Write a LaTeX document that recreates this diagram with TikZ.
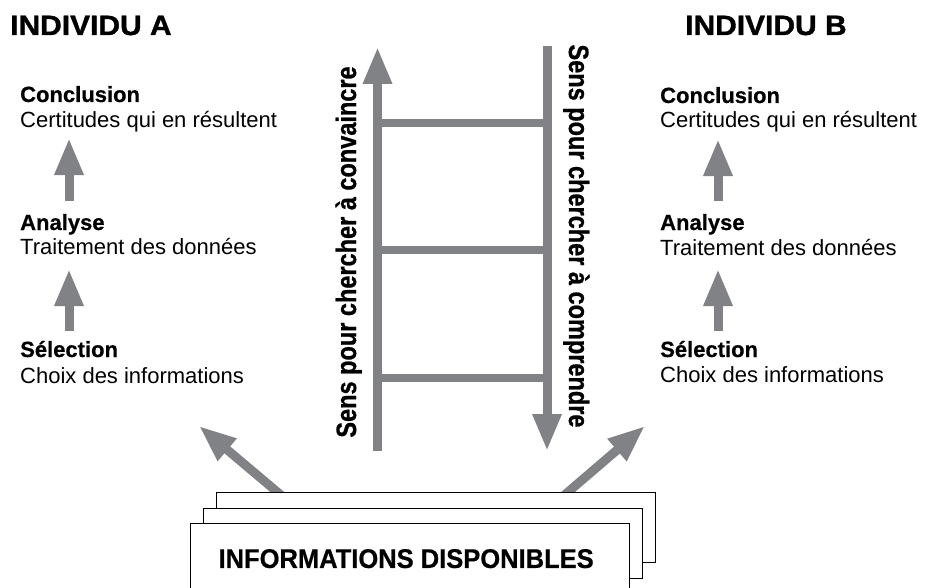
\documentclass[tikz,border=0pt]{standalone}
\usepackage{fontspec}
\setmainfont{Liberation Sans}
\newfontfamily\widefont[FakeStretch=1.07,FakeBold=1.2]{Liberation Sans}
\newfontfamily\narrowfont[FakeStretch=0.84,FakeBold=0.8]{Liberation Sans}
\newfontfamily\boxfont[FakeStretch=0.945,FakeBold=0.6]{Liberation Sans}
\newfontfamily\headfont[FakeBold=0.6]{Liberation Sans}
\usetikzlibrary{arrows.meta,calc}
\definecolor{arrowgray}{RGB}{128,130,133}

\begin{document}
\begin{tikzpicture}[x=1pt,y=-1pt,
  title/.style={font=\widefont\bfseries\fontsize{28}{30}\selectfont, anchor=base west, inner sep=0},
  head/.style={font=\headfont\bfseries\fontsize{22}{26}\selectfont, anchor=base west, inner sep=0},
  desc/.style={font=\fontsize{22}{26}\selectfont, anchor=base west, inner sep=0},
  bigarrow/.style={draw=arrowgray, line width=9pt, -{Triangle[length=37pt,width=27pt]}},
  rung/.style={draw=arrowgray, line width=8pt},
  vtext/.style={font=\narrowfont\bfseries\fontsize{28}{30}\selectfont, inner sep=0, anchor=base},
  sheet/.style={draw=black, line width=1.3pt, fill=white, minimum width=439pt,
                minimum height=70pt, inner sep=0, anchor=north west},
]
\useasboundingbox (0,0) rectangle (925,588);

% ---- column titles
\node[title] (titA) at (10,35) {INDIVIDU A};
\node[title] (titB) at (685,35) {INDIVIDU B};

% ---- individual A: three stages
\node[head] (concA)  at (20,102) {Conclusion};
\node[desc] (certA)  at (20,128) {Certitudes qui en résultent};
\node[head] (anaA)   at (20,230) {Analyse};
\node[desc] (traitA) at (20,254) {Traitement des données};
\node[head] (selA)   at (20,357) {Sélection};
\node[desc] (choixA) at (20,383) {Choix des informations};

% ---- individual B: three stages
\node[head] (concB)  at (660,103) {Conclusion};
\node[desc] (certB)  at (660,128) {Certitudes qui en résultent};
\node[head] (anaB)   at (660,230) {Analyse};
\node[desc] (traitB) at (660,255) {Traitement des données};
\node[head] (selB)   at (660,357) {Sélection};
\node[desc] (choixB) at (660,382) {Choix des informations};

% arrow axes of both columns
\coordinate (axA) at (69,0);
\coordinate (axB) at (718,0);

\draw[bigarrow] ($(anaA.base -| axA)+(0,-29)$) -- ($(certA.base -| axA)+(0,10)$);
\draw[bigarrow] ($(selA.base -| axA)+(0,-26)$) -- ($(traitA.base -| axA)+(0,15)$);
\draw[bigarrow] ($(anaB.base -| axB)+(0,-29)$) -- ($(certB.base -| axB)+(0,11)$);
\draw[bigarrow] ($(selB.base -| axB)+(0,-26)$) -- ($(traitB.base -| axB)+(0,14)$);

% ---- the ladder
\coordinate (Lbot) at (377.5,451);
\coordinate (Ltop) at (377.5,47);
\coordinate (Rtop) at (547,46);
\coordinate (Rbot) at (547,451);
\foreach \y in {123,250,378}
  \draw[rung] (377.5,\y) -- (547,\y);
\draw[bigarrow] (Lbot) -- (Ltop);
\draw[bigarrow] (Rtop) -- (Rbot);

\node[vtext, rotate=90]  (convaincre) at (356,252) {Sens pour chercher à convaincre};
\node[vtext, rotate=-90] (comprendre) at (569,236) {Sens pour chercher à comprendre};

% ---- stacked information sheets
\coordinate (tipA) at (199,426);
\coordinate (tipB) at (645,426);
\node[sheet] (back) at (216,492) {};
\draw[bigarrow] ($(back.north west)!0.139!(back.north east)+(6,5)$) -- (tipA);
\draw[bigarrow] ($(back.north west)!0.8!(back.north east)+(-6,5)$) -- (tipB);
\node[sheet] (back) at (216,492) {};
\node[sheet] (middle) at (203,508) {};
\node[sheet, font=\boxfont\bfseries\fontsize{27}{30}\selectfont] (front) at (190,523)
  {\hspace*{-8pt}INFORMATIONS DISPONIBLES};
\end{tikzpicture}
\end{document}
